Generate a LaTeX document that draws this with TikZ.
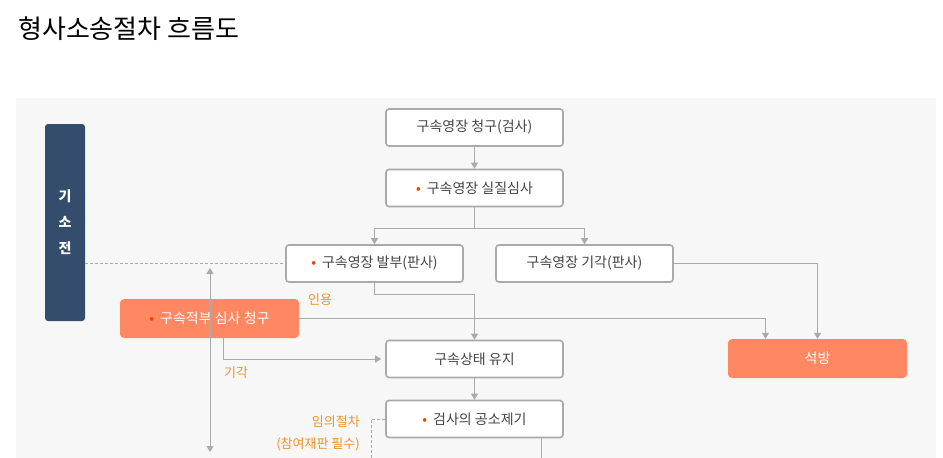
\documentclass[tikz,border=0pt]{standalone}
\usepackage{fontspec}
\setmainfont{Noto Sans CJK KR}
\usetikzlibrary{arrows.meta}
\definecolor{bg}{HTML}{F7F7F7}
\definecolor{navy}{HTML}{344D6D}
\definecolor{org}{HTML}{FF8862}
\definecolor{lab}{HTML}{F0922C}
\definecolor{bul}{HTML}{FF3D00}
\definecolor{ln}{HTML}{AAAAAA}
\definecolor{tx}{HTML}{444444}
\tikzset{
 box/.style={draw=ln,line width=1.6pt,rounded corners=3pt,fill=white,minimum width=177pt,minimum height=37pt,text=tx,font=\fontsize{14}{16}\selectfont,inner sep=0pt},
 obox/.style={fill=org,rounded corners=4pt,minimum width=179pt,minimum height=39pt,text=white,font=\fontsize{14}{16}\selectfont,inner sep=0pt},
 conn/.style={draw=ln,line width=1pt},
 arr/.style={conn,-{Triangle[width=7pt,length=6pt]}},
 lbl/.style={text=lab,font=\fontsize{13}{15}\selectfont,inner sep=0pt}
}
\newcommand{\bl}{{\color{bul}•}\hspace{6pt}}
\begin{document}
\begin{tikzpicture}[x=1pt,y=-1pt]
\useasboundingbox (0,0) rectangle (943,458);
\fill[bg] (16,98) rectangle (936,458);
\node[anchor=west,inner sep=0pt,font=\fontsize{26}{30}\selectfont,text=black] (title) at (18,29) {형사소송절차 흐름도};
\node[fill=navy,rounded corners=3pt,minimum width=40pt,minimum height=197pt,inner sep=0pt,text=white,font=\fontsize{14}{26}\selectfont\bfseries,align=center] (side) at (65,222.5) {기\\소\\전};
\node[box] (b1) at (474.5,127.5) {구속영장 청구(검사)};
\node[box] (b2) at (474.5,188) {\bl 구속영장 실질심사};
\node[box] (b3) at (374.5,263.5) {\bl 구속영장 발부(판사)};
\node[box] (b4) at (584.5,263.5) {구속영장 기각(판사)};
\node[obox] (o1) at (209.5,318.5) {\bl 구속적부 심사 청구};
\node[box] (b5) at (474.5,359) {구속상태 유지};
\node[obox] (rel) at (817.5,358.5) {석방};
\node[box] (b6) at (474.5,419) {\bl 검사의 공소제기};
\coordinate (split) at (474.5,228);
\coordinate (j3) at (474.5,294);
\coordinate (vt) at (210,268);
\coordinate (vb) at (210,452);
\coordinate (d6) at (371,458);
\coordinate (e6) at (541,458);
\draw[arr] (b1) -- (b2);
\draw[conn] (b2) -- (split);
\draw[arr] (split) -| (b3.north);
\draw[arr] (split) -| (b4.north);
\draw[conn,dashed,dash pattern=on 3pt off 2pt] (side.east |- b3) -- (b3.west);
\draw[arr] (b3.south) |- (j3) -- (b5.north);
\draw[arr] (o1.east) -| ([xshift=-52pt]rel.north);
\draw[arr] (b4.east) -| (rel.north);
\draw[arr] ([xshift=14pt]o1.south) |- ([xshift=-4pt]b5.west);
\draw[conn,{Triangle[width=7pt,length=6pt]}-{Triangle[width=7pt,length=6pt]}] (vt) -- (vb);
\draw[arr] (b5) -- (b6);
\draw[conn,dashed,dash pattern=on 3pt off 2pt] (b6.west) -| (d6);
\draw[conn] (b6.south -| e6) -- (e6);
\node[lbl,anchor=west] (l1) at (308,300) {인용};
\node[lbl,anchor=west] (l2) at (224,373) {기각};
\node[lbl,anchor=east] (l3) at (360,422) {임의절차};
\node[lbl,anchor=east] (l4) at (360,444) {(참여재판 필수)};
\end{tikzpicture}
\end{document}
